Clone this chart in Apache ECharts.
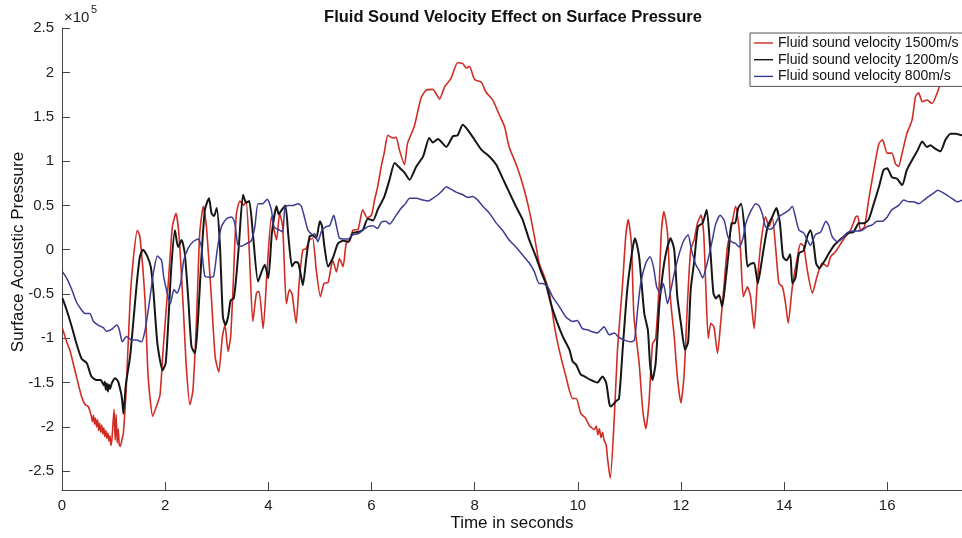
<!DOCTYPE html>
<html>
<head>
<meta charset="utf-8">
<script src="https://cdn.jsdelivr.net/npm/echarts@6/dist/echarts.min.js"></script>
<style>html,body{margin:0;padding:0;background:#fff}#c{width:962px;height:538px}</style>
</head>
<body>
<div id="c"></div>
<script>
// Values are in units of 10^5 Pa; [time (s), pressure]
const seriesNames = ['Fluid sound velocity 1500m/s', 'Fluid sound velocity 1200m/s', 'Fluid sound velocity 800m/s'];
const xTicks = [0, 2, 4, 6, 8, 10, 12, 14, 16];
const yTicks = [-2.5, -2, -1.5, -1, -0.5, 0, 0.5, 1, 1.5, 2, 2.5];

const v1500 = [[0.01,-0.89],[0.09,-1.04],[0.15,-1.13],[0.25,-1.36],[0.38,-1.66],[0.45,-1.75],[0.51,-1.77],[0.57,-1.88],[0.59,-1.94],[0.61,-1.87],[0.63,-1.97],[0.65,-1.90],[0.67,-2.00],[0.69,-1.92],[0.71,-2.04],[0.73,-1.96],[0.75,-2.06],[0.77,-1.98],[0.79,-2.08],[0.81,-2.01],[0.83,-2.11],[0.85,-2.04],[0.87,-2.13],[0.89,-2.07],[0.91,-2.16],[0.93,-2.10],[0.95,-2.21],[0.97,-2.13],[0.99,-1.95],[1.01,-1.80],[1.03,-2.15],[1.05,-1.86],[1.07,-2.18],[1.09,-2.02],[1.11,-2.20],[1.13,-2.22],[1.16,-2.15],[1.19,-2.07],[1.25,-1.51],[1.32,-0.57],[1.38,-0.12],[1.46,0.22],[1.51,0.15],[1.61,-0.57],[1.67,-1.43],[1.76,-1.88],[1.83,-1.77],[1.90,-1.64],[1.96,-1.13],[2.06,-0.38],[2.14,0.26],[2.21,0.41],[2.27,0.15],[2.35,-0.64],[2.41,-1.32],[2.48,-1.75],[2.54,-1.58],[2.61,-0.76],[2.67,0.18],[2.74,0.49],[2.80,0.26],[2.90,-0.57],[2.97,-1.21],[3.04,-1.38],[3.11,-0.98],[3.16,-0.85],[3.22,-1.15],[3.27,-0.98],[3.32,-0.38],[3.38,0.40],[3.45,0.55],[3.52,0.50],[3.57,0.55],[3.63,0.00],[3.70,-0.81],[3.77,-0.49],[3.82,-0.47],[3.90,-0.89],[3.98,-0.20],[4.06,0.37],[4.12,0.20],[4.16,0.11],[4.22,0.41],[4.28,0.25],[4.35,-0.61],[4.41,-0.45],[4.46,-0.50],[4.54,-0.83],[4.60,-0.35],[4.67,0.00],[4.73,0.01],[4.80,0.11],[4.86,0.13],[4.93,-0.23],[5.01,-0.53],[5.08,-0.38],[5.16,-0.37],[5.25,-0.12],[5.32,-0.25],[5.38,-0.10],[5.45,-0.19],[5.51,0.07],[5.58,0.10],[5.64,0.22],[5.74,0.23],[5.83,0.45],[5.92,0.36],[6.00,0.39],[6.06,0.56],[6.12,0.71],[6.19,0.94],[6.25,1.10],[6.32,1.29],[6.42,1.26],[6.48,1.27],[6.54,1.13],[6.64,0.96],[6.70,1.20],[6.83,1.39],[6.96,1.71],[7.06,1.80],[7.19,1.81],[7.32,1.70],[7.42,1.84],[7.54,1.93],[7.67,2.11],[7.77,2.10],[7.84,2.05],[7.90,2.07],[8.00,1.92],[8.13,1.89],[8.22,1.78],[8.35,1.69],[8.48,1.52],[8.58,1.39],[8.67,1.16],[8.80,0.97],[8.90,0.80],[9.03,0.52],[9.16,0.15],[9.25,-0.15],[9.35,-0.30],[9.45,-0.49],[9.55,-0.87],[9.64,-1.13],[9.77,-1.43],[9.90,-1.68],[9.97,-1.68],[10.06,-1.85],[10.15,-1.90],[10.22,-1.98],[10.32,-2.03],[10.36,-1.99],[10.39,-2.09],[10.42,-2.02],[10.45,-2.12],[10.48,-2.06],[10.51,-2.15],[10.55,-2.20],[10.58,-2.37],[10.63,-2.58],[10.71,-1.88],[10.77,-1.13],[10.87,-0.38],[10.93,0.15],[10.98,0.34],[11.04,0.07],[11.09,-0.76],[11.19,-1.28],[11.26,-1.81],[11.32,-2.02],[11.38,-1.73],[11.45,-1.06],[11.51,-1.00],[11.58,-0.38],[11.62,0.19],[11.67,0.43],[11.74,0.19],[11.80,-0.57],[11.87,-0.98],[11.93,-1.43],[12.00,-1.73],[12.06,-1.43],[12.13,-0.57],[12.19,0.00],[12.26,0.12],[12.32,0.30],[12.39,0.39],[12.44,0.20],[12.48,-0.38],[12.53,-1.00],[12.58,-0.83],[12.64,-0.87],[12.71,-1.17],[12.77,-0.83],[12.84,-0.38],[12.90,0.03],[12.97,0.22],[13.06,0.49],[13.13,0.22],[13.16,-0.05],[13.21,-0.53],[13.29,-0.42],[13.35,-0.53],[13.42,-0.89],[13.48,-0.38],[13.55,0.07],[13.64,0.37],[13.71,0.26],[13.77,0.37],[13.84,0.00],[13.90,-0.38],[13.97,-0.42],[14.03,-0.61],[14.08,-0.83],[14.16,-0.42],[14.26,-0.08],[14.32,0.07],[14.38,0.04],[14.45,-0.23],[14.55,-0.49],[14.64,-0.30],[14.74,-0.15],[14.84,-0.19],[14.90,-0.08],[15.00,-0.02],[15.10,0.07],[15.19,0.15],[15.29,0.22],[15.39,0.37],[15.43,0.38],[15.48,0.22],[15.56,0.26],[15.64,0.56],[15.74,0.90],[15.84,1.20],[15.91,1.24],[16.00,1.09],[16.09,1.09],[16.16,0.97],[16.22,0.94],[16.29,1.09],[16.38,1.31],[16.48,1.46],[16.55,1.73],[16.61,1.77],[16.68,1.67],[16.77,1.69],[16.87,1.65],[16.97,1.77],[17.06,1.92],[17.15,2.00],[17.45,2.10]];

const v1200 = [[0.01,-0.55],[0.09,-0.68],[0.19,-0.87],[0.28,-1.06],[0.38,-1.23],[0.48,-1.28],[0.57,-1.43],[0.67,-1.47],[0.75,-1.47],[0.81,-1.53],[0.83,-1.49],[0.85,-1.58],[0.87,-1.51],[0.89,-1.60],[0.91,-1.52],[0.93,-1.57],[0.97,-1.50],[1.03,-1.45],[1.09,-1.49],[1.13,-1.58],[1.15,-1.63],[1.17,-1.72],[1.19,-1.85],[1.24,-1.51],[1.32,-1.21],[1.38,-0.83],[1.45,-0.38],[1.51,-0.08],[1.57,0.00],[1.65,-0.07],[1.72,-0.19],[1.77,-0.45],[1.85,-1.06],[1.95,-1.36],[2.01,-1.28],[2.06,-0.83],[2.12,-0.19],[2.19,0.22],[2.25,0.03],[2.32,0.11],[2.38,-0.04],[2.45,-0.57],[2.51,-1.09],[2.58,-1.17],[2.64,-0.76],[2.70,-0.12],[2.77,0.45],[2.85,0.58],[2.90,0.41],[2.95,0.38],[3.00,0.47],[3.06,0.07],[3.12,-0.76],[3.17,-0.85],[3.22,-0.76],[3.27,-0.57],[3.33,-0.55],[3.38,-0.30],[3.43,0.05],[3.51,0.62],[3.57,0.53],[3.63,0.55],[3.70,0.19],[3.80,-0.36],[3.87,-0.25],[3.93,-0.17],[4.00,-0.32],[4.07,0.19],[4.16,0.49],[4.20,0.40],[4.25,0.44],[4.33,0.50],[4.39,0.15],[4.46,-0.19],[4.52,-0.14],[4.58,-0.15],[4.62,-0.25],[4.67,-0.40],[4.74,-0.08],[4.80,0.15],[4.86,0.16],[4.93,0.13],[5.00,0.32],[5.04,0.27],[5.09,0.03],[5.16,-0.19],[5.26,-0.08],[5.35,0.07],[5.45,0.10],[5.55,0.09],[5.64,0.19],[5.74,0.20],[5.83,0.22],[5.93,0.35],[6.03,0.33],[6.12,0.45],[6.25,0.60],[6.35,0.79],[6.45,0.98],[6.57,0.91],[6.64,0.87],[6.74,0.79],[6.87,0.94],[7.00,1.05],[7.12,1.26],[7.19,1.21],[7.29,1.25],[7.45,1.16],[7.58,1.28],[7.67,1.29],[7.77,1.41],[7.87,1.35],[8.00,1.24],[8.13,1.13],[8.29,1.05],[8.42,0.96],[8.54,0.81],[8.67,0.65],[8.80,0.49],[8.93,0.34],[9.06,0.11],[9.19,-0.08],[9.29,-0.25],[9.38,-0.38],[9.48,-0.61],[9.58,-0.79],[9.71,-0.98],[9.84,-1.13],[9.90,-1.26],[9.97,-1.30],[10.06,-1.41],[10.13,-1.43],[10.25,-1.47],[10.38,-1.50],[10.48,-1.43],[10.55,-1.50],[10.61,-1.73],[10.64,-1.77],[10.74,-1.71],[10.80,-1.68],[10.87,-1.13],[10.96,-0.45],[11.06,0.00],[11.11,0.13],[11.19,-0.08],[11.29,-0.72],[11.36,-0.91],[11.40,-1.28],[11.45,-1.47],[11.51,-1.28],[11.58,-0.64],[11.64,-0.30],[11.71,-0.04],[11.80,0.13],[11.87,0.00],[11.93,-0.53],[12.00,-0.83],[12.08,-1.13],[12.14,-1.04],[12.19,-0.45],[12.26,-0.12],[12.33,0.26],[12.42,0.30],[12.50,0.45],[12.57,0.00],[12.63,-0.49],[12.68,-0.55],[12.74,-0.51],[12.80,-0.64],[12.86,-0.38],[12.93,0.00],[12.98,0.30],[13.05,0.30],[13.11,0.47],[13.17,0.52],[13.24,0.19],[13.29,-0.19],[13.35,-0.16],[13.42,-0.15],[13.49,-0.38],[13.58,-0.08],[13.68,0.26],[13.77,0.37],[13.85,0.47],[13.92,0.30],[13.98,-0.08],[14.05,-0.12],[14.12,-0.05],[14.16,-0.38],[14.22,-0.32],[14.29,-0.04],[14.38,-0.01],[14.45,0.15],[14.51,0.22],[14.57,0.08],[14.62,-0.15],[14.68,-0.21],[14.77,-0.14],[14.87,-0.04],[14.97,0.05],[15.06,0.10],[15.16,0.15],[15.26,0.19],[15.35,0.20],[15.45,0.30],[15.55,0.30],[15.64,0.34],[15.74,0.52],[15.84,0.71],[15.93,0.90],[16.00,0.92],[16.09,0.82],[16.19,0.80],[16.29,0.73],[16.38,0.90],[16.48,1.01],[16.58,1.11],[16.68,1.22],[16.77,1.16],[16.84,1.18],[16.93,1.14],[17.03,1.11],[17.13,1.24],[17.23,1.31],[17.33,1.31],[17.45,1.29]];

const v800 = [[0.01,-0.25],[0.09,-0.32],[0.19,-0.45],[0.28,-0.59],[0.38,-0.68],[0.45,-0.72],[0.54,-0.72],[0.61,-0.81],[0.70,-0.85],[0.80,-0.88],[0.86,-0.92],[0.96,-0.90],[1.06,-0.85],[1.11,-0.90],[1.17,-1.04],[1.25,-0.98],[1.35,-1.02],[1.45,-1.02],[1.54,-1.04],[1.61,-0.91],[1.69,-0.61],[1.77,-0.27],[1.85,-0.07],[1.93,-0.12],[1.97,-0.30],[2.04,-0.49],[2.10,-0.61],[2.17,-0.45],[2.23,-0.49],[2.30,-0.38],[2.36,-0.12],[2.45,0.02],[2.54,0.09],[2.64,0.12],[2.70,0.04],[2.77,-0.30],[2.87,-0.31],[2.94,-0.30],[3.01,0.00],[3.09,0.26],[3.19,0.35],[3.29,0.37],[3.35,0.30],[3.41,0.05],[3.48,0.04],[3.58,0.07],[3.67,0.10],[3.74,0.26],[3.80,0.52],[3.89,0.52],[3.98,0.57],[4.06,0.45],[4.11,0.26],[4.22,0.22],[4.28,0.20],[4.32,0.47],[4.38,0.50],[4.48,0.50],[4.58,0.52],[4.64,0.49],[4.70,0.37],[4.77,0.22],[4.86,0.17],[4.90,0.18],[4.96,0.09],[5.04,0.22],[5.12,0.26],[5.19,0.27],[5.27,0.39],[5.32,0.27],[5.38,0.13],[5.45,0.12],[5.55,0.12],[5.64,0.17],[5.74,0.18],[5.83,0.22],[5.93,0.26],[6.03,0.27],[6.12,0.24],[6.19,0.31],[6.28,0.32],[6.35,0.29],[6.48,0.39],[6.58,0.47],[6.66,0.52],[6.74,0.58],[6.87,0.58],[7.00,0.56],[7.10,0.55],[7.19,0.58],[7.29,0.62],[7.38,0.67],[7.45,0.71],[7.55,0.68],[7.64,0.65],[7.77,0.62],[7.87,0.59],[7.96,0.60],[8.06,0.56],[8.16,0.49],[8.29,0.41],[8.42,0.30],[8.54,0.22],[8.67,0.11],[8.80,0.03],[8.93,-0.06],[9.06,-0.15],[9.16,-0.25],[9.25,-0.38],[9.32,-0.38],[9.42,-0.42],[9.51,-0.53],[9.64,-0.64],[9.77,-0.76],[9.90,-0.81],[9.99,-0.80],[10.09,-0.89],[10.22,-0.91],[10.25,-0.92],[10.38,-0.94],[10.51,-0.87],[10.61,-0.96],[10.71,-0.94],[10.80,-0.99],[10.90,-1.02],[11.03,-1.04],[11.10,-1.02],[11.16,-0.68],[11.22,-0.38],[11.32,-0.15],[11.40,-0.08],[11.47,-0.20],[11.53,-0.42],[11.60,-0.49],[11.66,-0.38],[11.74,-0.61],[11.80,-0.47],[11.87,-0.27],[11.97,-0.04],[12.06,0.11],[12.14,0.17],[12.20,0.01],[12.29,-0.17],[12.36,-0.24],[12.42,-0.32],[12.51,-0.15],[12.61,0.11],[12.67,0.28],[12.76,0.39],[12.84,0.33],[12.91,0.15],[12.98,0.09],[13.06,0.07],[13.13,0.03],[13.20,0.12],[13.26,0.30],[13.35,0.43],[13.45,0.52],[13.51,0.50],[13.58,0.40],[13.64,0.26],[13.73,0.23],[13.81,0.27],[13.90,0.37],[14.00,0.41],[14.10,0.45],[14.16,0.49],[14.22,0.37],[14.29,0.22],[14.38,0.19],[14.45,0.11],[14.51,0.05],[14.61,0.17],[14.71,0.20],[14.81,0.32],[14.87,0.27],[14.93,0.15],[15.03,0.09],[15.13,0.13],[15.22,0.19],[15.32,0.21],[15.42,0.21],[15.51,0.22],[15.61,0.26],[15.71,0.28],[15.80,0.32],[15.90,0.32],[16.00,0.37],[16.09,0.45],[16.22,0.50],[16.32,0.56],[16.42,0.54],[16.51,0.54],[16.61,0.52],[16.71,0.56],[16.80,0.60],[16.90,0.64],[16.98,0.67],[17.06,0.65],[17.15,0.62],[17.25,0.58],[17.36,0.54],[17.45,0.56]];

const colors = ['#d02c24', '#161616', '#3c3c94'];
const FONT = '"Liberation Sans", Arial, Helvetica, sans-serif';

const chart = echarts.init(document.getElementById('c'), null, {renderer: 'canvas'});
const mk = (name, data, color, width) => ({
  name, type: 'line', data, symbol: 'none', showSymbol: false,
  smooth: 0.2, animation: false,
  lineStyle: {color, width}, itemStyle: {color}
});
chart.setOption({
  animation: false,
  backgroundColor: '#fff',
  grid: {left: 62, right: 0, top: 28.2, bottom: 48, containLabel: false},
  xAxis: {
    type: 'value', min: 0, max: 17.45,
    axisLine: {show: true, onZero: false, lineStyle: {color: '#444', width: 1}},
    axisTick: {show: true, inside: true, length: 8, lineStyle: {color: '#444'}, customValues: xTicks},
    axisLabel: {show: true, color: '#222', fontSize: 15, fontFamily: FONT, margin: 8, customValues: xTicks},
    splitLine: {show: false}
  },
  yAxis: {
    type: 'value', min: -2.712, max: 2.5,
    axisLine: {show: true, onZero: false, lineStyle: {color: '#444', width: 1}},
    axisTick: {show: true, inside: true, length: 8, lineStyle: {color: '#444'}, customValues: yTicks},
    axisLabel: {show: true, color: '#222', fontSize: 15, fontFamily: FONT, margin: 8, customValues: yTicks,
      formatter: v => String(v)},
    splitLine: {show: false}
  },
  legend: {
    orient: 'vertical', left: 750, top: 33,
    padding: [3, 40, 3, 4], itemGap: 2.7, itemWidth: 19, itemHeight: 14,
    icon: 'path://M0 0H19V1.4H0Z', symbolKeepAspect: true,
    backgroundColor: '#fff', borderColor: '#555', borderWidth: 1, borderRadius: 0,
    textStyle: {fontSize: 14, color: '#111', fontFamily: FONT},
    data: seriesNames
  },
  graphic: [
    {type: 'text', x: 513, y: 17, style: {text: 'Fluid Sound Velocity Effect on Surface Pressure', fontSize: 16.5, fontWeight: 'bold', fontFamily: FONT, fill: '#111', align: 'center', verticalAlign: 'middle'}},
    {type: 'text', x: 512, y: 523, style: {text: 'Time in seconds', fontSize: 17, fontFamily: FONT, fill: '#111', align: 'center', verticalAlign: 'middle'}},
    {type: 'text', x: 18, y: 252, rotation: Math.PI / 2, style: {text: 'Surface Acoustic Pressure', fontSize: 17, fontFamily: FONT, fill: '#111', align: 'center', verticalAlign: 'middle'}},
    {type: 'text', x: 64, y: 18, style: {text: '×10', fontSize: 15, fontFamily: FONT, fill: '#222', align: 'left', verticalAlign: 'middle'}},
    {type: 'text', x: 91, y: 10, style: {text: '5', fontSize: 11, fontFamily: FONT, fill: '#222', align: 'left', verticalAlign: 'middle'}}
  ],
  series: [
    mk(seriesNames[0], v1500, colors[0], 1.6),
    mk(seriesNames[1], v1200, colors[1], 2),
    mk(seriesNames[2], v800, colors[2], 1.5)
  ]
});
</script>
</body>
</html>
